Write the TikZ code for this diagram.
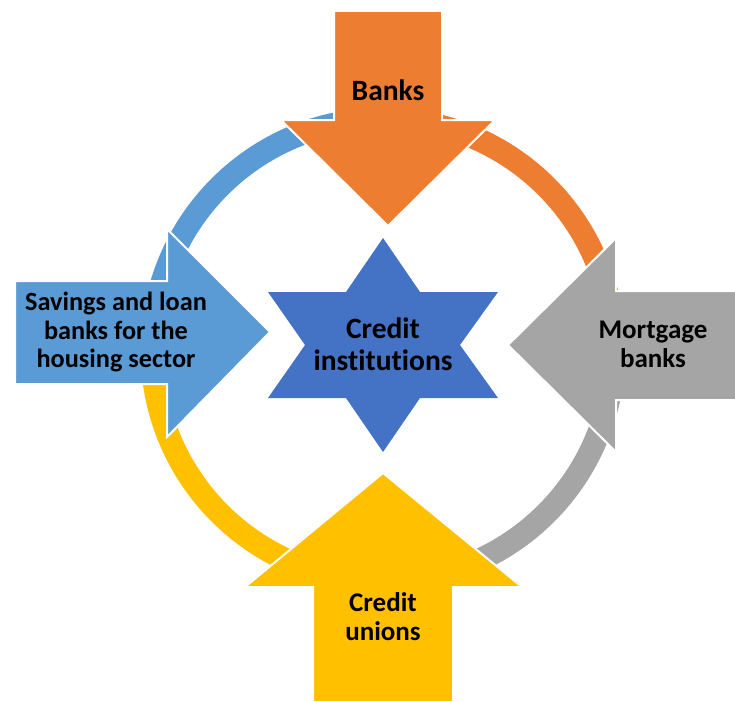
\documentclass[tikz,border=0pt]{standalone}
\usepackage{fontspec}
\setmainfont{Carlito}[Ligatures=NoCommon]
\definecolor{cOrange}{HTML}{ED7D31}
\definecolor{cGray}{HTML}{A5A5A5}
\definecolor{cYellow}{HTML}{FFC000}
\definecolor{cLightBlue}{HTML}{5B9BD5}
\definecolor{cBlue}{HTML}{4472C4}
\begin{document}
\begin{tikzpicture}[x=1pt,y=-1pt,
  ringseg/.style={line width=23pt},
  bigarrow/.style={draw=white,line width=2pt,line join=miter},
  lbl/.style={align=center,font=\bfseries\fontsize{27}{29}\selectfont,text=black,inner sep=0pt}]
\useasboundingbox (0,0) rectangle (735,701);
\coordinate (c) at (383,350);

% ring in four coloured quarters
\draw[ringseg,cLightBlue] (c) ++(180:231) arc[start angle=180,end angle=270,radius=231];
\draw[ringseg,cOrange]    (c) ++(270:231) arc[start angle=270,end angle=360,radius=231];
\draw[ringseg,cGray]      (c) ++(0:231)   arc[start angle=0,end angle=90,radius=231];
\draw[ringseg,cYellow]    (c) ++(90:231)  arc[start angle=90,end angle=180,radius=231];

% four block arrows pointing inwards
\filldraw[bigarrow,fill=cOrange]
  (334,11) -- (442,11) -- (442,120) -- (495,120) -- (388,226) -- (281,120) -- (334,120) -- cycle;
\filldraw[bigarrow,fill=cYellow]
  (313,702) -- (453,702) -- (453,587) -- (522,587) -- (383,473) -- (245,587) -- (313,587) -- cycle;
\filldraw[bigarrow,fill=cLightBlue]
  (15,281) -- (167,281) -- (167,229) -- (270,332) -- (167,437) -- (167,384) -- (15,384) -- cycle;
\filldraw[bigarrow,fill=cGray]
  (737,291) -- (616,291) -- (616,238) -- (508,345) -- (616,452) -- (616,400) -- (737,400) -- cycle;

% central six-pointed star
\fill[cBlue] (383,238) -- (420,292) -- (498,292) -- (460,345) -- (498,398) -- (420,398)
  -- (383,452) -- (346,398) -- (268,398) -- (305,345) -- (268,292) -- (346,292) -- cycle;

% labels
\node[lbl,font=\bfseries\fontsize{29.5}{31}\selectfont] (banks) at (388,90) {Banks};
\node[lbl] (unions) at (383,617) {Credit\\unions};
\node[lbl,font=\bfseries\fontsize{26.3}{28.3}\selectfont] (savings) at (116,332) {Savings and loan\\banks for the\\housing sector};
\node[lbl] (mortgage) at (653,344) {Mortgage\\banks};
\node[lbl,font=\bfseries\fontsize{29.5}{32}\selectfont] (credit) at (383,344) {Credit\\institutions};
\end{tikzpicture}
\end{document}
